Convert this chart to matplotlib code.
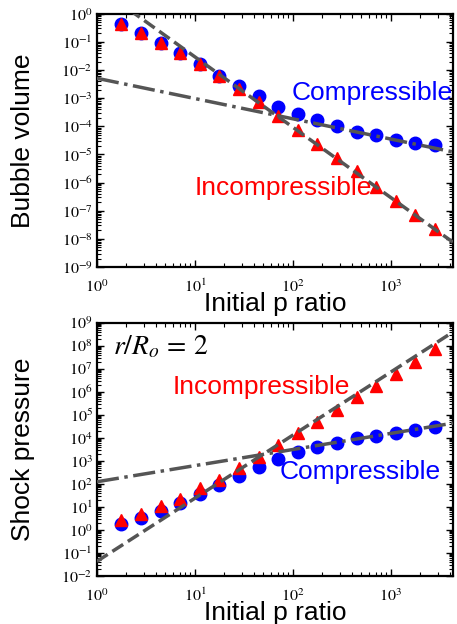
import numpy as np
import matplotlib
matplotlib.use("Agg")
import matplotlib.pyplot as plt
from matplotlib.ticker import LogLocator, NullFormatter, FuncFormatter

plt.rcParams["font.family"] = ["Liberation Sans", "DejaVu Sans"]
plt.rcParams["mathtext.fontset"] = "stix"

# initial pressure ratio (same for both panels)
p_ratio = [1.78, 2.82, 4.47, 7.08, 11.2, 17.8, 28.2, 44.7, 70.8, 112,
           178, 282, 447, 708, 1122, 1778, 2818]

# bubble volume
vol_comp = [0.44, 0.20, 0.095, 0.040, 0.016, 6.2e-3, 2.8e-3, 1.15e-3, 5.0e-4,
            2.7e-4, 1.7e-4, 1.0e-4, 6.5e-5, 4.9e-5, 3.3e-5, 2.6e-5, 2.2e-5]
vol_incomp = [0.44, 0.20, 0.095, 0.040, 0.016, 6.0e-3, 2.1e-3, 7.6e-4, 2.3e-4,
              7.4e-5, 2.3e-5, 7.2e-6, 2.5e-6, 7.1e-7, 2.2e-7, 7.1e-8, 2.2e-8]

# shock pressure at r/Ro = 2
sp_comp = [1.8, 3.2, 6.5, 15, 35, 87, 214, 513, 1150, 2450, 4070, 6000, 9300,
           11700, 16600, 21400, 30200]
sp_incomp = [2.6, 4.7, 10.7, 23, 63, 150, 470, 1480, 4800, 15500, 5.0e4,
             1.6e5, 5.8e5, 1.8e6, 5.9e6, 2.0e7, 7.2e7]

# power-law fits: (prefactor, exponent)
vol_fit_incomp = (9.3, -2.5)
vol_fit_comp = (5.1e-3, -0.72)
sp_fit_incomp = (0.043, 2.74)
sp_fit_comp = (123, 0.70)

x_lim = (1, 4300)
fit_x = np.array(x_lim, dtype=float)


def pow_label(v, pos):
    return r"$10^{%d}$" % int(round(np.log10(v)))


def style_axis(ax, ylim):
    ax.set_xscale("log")
    ax.set_yscale("log")
    ax.set_xlim(*x_lim)
    ax.set_ylim(*ylim)
    for a in (ax.xaxis, ax.yaxis):
        a.set_major_locator(LogLocator(base=10, numticks=30))
        a.set_minor_locator(LogLocator(base=10, subs=np.arange(2, 10), numticks=300))
        a.set_minor_formatter(NullFormatter())
        a.set_major_formatter(FuncFormatter(pow_label))
    ax.tick_params(which="both", direction="in", top=True, right=True,
                   labelsize=11.5)
    ax.tick_params(axis="x", which="both", pad=8)
    ax.tick_params(axis="y", which="both", pad=3)
    ax.tick_params(which="major", length=5, width=1)
    ax.tick_params(which="minor", length=3, width=0.8)
    for s in ax.spines.values():
        s.set_linewidth(1.6)
    ax.set_xlabel("Initial p ratio", fontsize=19)
    ax.xaxis.set_label_coords(0.5, -0.1)
    ax.xaxis.label.set_verticalalignment("top")


def draw_fit(ax, fit, ls):
    a, b = fit
    ax.plot(fit_x, a * fit_x ** b, ls=ls, color="#555555", lw=2.5, zorder=3)


fig = plt.figure(figsize=(4.57, 6.24), dpi=100)
ax1 = fig.add_axes([0.212, 0.572, 0.779, 0.406])
ax2 = fig.add_axes([0.212, 0.077, 0.779, 0.406])

# top: bubble volume
ax1.plot(p_ratio, vol_comp, "o", color="blue", ms=9, zorder=2)
ax1.plot(p_ratio, vol_incomp, "^", color="red", ms=9, zorder=2)
draw_fit(ax1, vol_fit_incomp, "--")
draw_fit(ax1, vol_fit_comp, "-.")
style_axis(ax1, (1e-9, 1))
ax1.set_ylabel("Bubble volume", fontsize=19)
ax1.yaxis.set_label_coords(-0.175, 0.5)
ax1.text(98, 1.55e-3, "Compressible", color="blue", fontsize=19,
         ha="left", va="center")
ax1.text(10, 6.4e-7, "Incompressible", color="red", fontsize=19,
         ha="left", va="center")

# bottom: shock pressure
ax2.plot(p_ratio, sp_comp, "o", color="blue", ms=9, zorder=2)
ax2.plot(p_ratio, sp_incomp, "^", color="red", ms=9, zorder=2)
draw_fit(ax2, sp_fit_incomp, "--")
draw_fit(ax2, sp_fit_comp, "-.")
style_axis(ax2, (1e-2, 1e9))
ax2.set_ylabel("Shock pressure", fontsize=19)
ax2.yaxis.set_label_coords(-0.175, 0.5)
ax2.text(5.97, 1.6e6, "Incompressible", color="red", fontsize=19,
         ha="left", va="center")
ax2.text(73.6, 324, "Compressible", color="blue", fontsize=19,
         ha="left", va="center")
ax2.text(1.46, 8.7e7, r"$r/R_o\,=\,2$", fontsize=20, ha="left", va="center")

plt.savefig("out.png", dpi=100)
plt.close()
